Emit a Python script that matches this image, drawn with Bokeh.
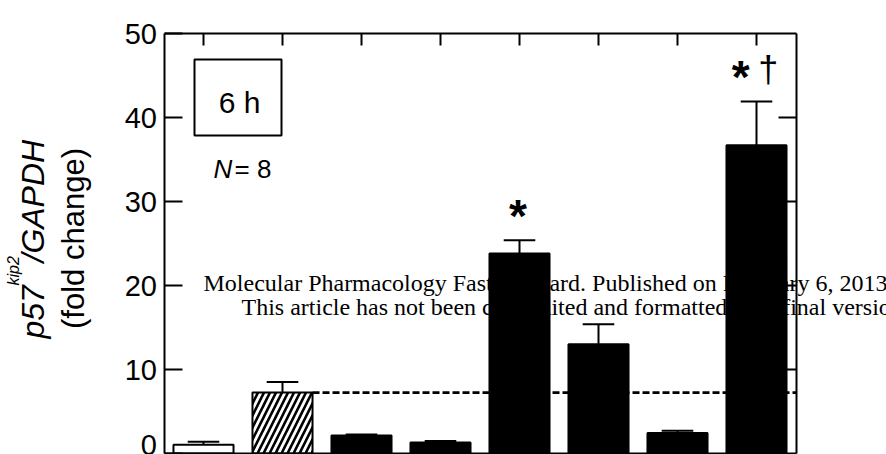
import math
from bokeh.plotting import figure
from bokeh.models import Label, LinearAxis, FixedTicker, Range1d
from bokeh.embed import file_html
from bokeh.resources import INLINE

# ---- data ----
groups = ["1", "2", "3", "4", "5", "6", "7", "8"]
values = [1.05, 7.25, 2.15, 1.3, 23.8, 13.0, 2.45, 36.7]
errors = [0.35, 1.25, 0.12, 0.18, 1.6, 2.4, 0.25, 5.2]
reference_level = 7.25
y_ticks = [0, 10, 20, 30, 40, 50]

SANS = "'Liberation Sans', Arial, sans-serif"
SERIF = "'Liberation Serif', 'Times New Roman', serif"

# frame covers the whole canvas; axes are drawn at fixed data locations
PX_X, X0 = 79.0, 203.0      # px per category, canvas x of first category
PX_Y, Y0 = 8.4, 453.0       # px per unit, canvas y of value 0
W, H = 886, 454

def dx(sx):
    return (sx - X0) / PX_X

def dy(sy):
    return (Y0 - sy) / PX_Y

xs = list(range(len(groups)))
XL, XR = -0.5, len(groups) - 0.5
YB, YT = y_ticks[0], y_ticks[-1]

p = figure(width=W, height=H, output_backend="svg", toolbar_location=None,
           x_range=Range1d(dx(0), dx(W)), y_range=Range1d(dy(H), dy(0)),
           x_axis_location=None, y_axis_location=None,
           min_border_left=0, min_border_right=0, min_border_top=0, min_border_bottom=0)
p.grid.visible = False
p.outline_line_color = None
p.background_fill_color = "white"
p.border_fill_color = "white"

# left axis
ya = LinearAxis(fixed_location=XL, bounds=(YB, YT), ticker=FixedTicker(ticks=y_ticks),
                major_tick_in=18, major_tick_out=0, minor_tick_in=0, minor_tick_out=0,
                major_tick_line_width=2, axis_line_width=2,
                major_label_text_font=SANS, major_label_text_font_size="29px",
                major_label_text_color="black", major_label_standoff=7)
p.add_layout(ya, "left")
# right axis (ticks only)
ra = LinearAxis(fixed_location=XR, bounds=(YB, YT), ticker=FixedTicker(ticks=y_ticks[1:-1]),
                major_tick_in=18, major_tick_out=0, minor_tick_in=0, minor_tick_out=0,
                major_label_overrides={t: "" for t in y_ticks[1:-1]},
                major_tick_line_width=2, axis_line_width=2, major_label_standoff=0)
p.add_layout(ra, "right")
# top axis (ticks only)
ta = LinearAxis(fixed_location=YT, bounds=(XL, XR), ticker=FixedTicker(ticks=xs),
                major_tick_in=12, major_tick_out=0, minor_tick_in=0, minor_tick_out=0,
                major_label_overrides={t: "" for t in xs},
                major_tick_line_width=2, axis_line_width=2, major_label_standoff=0)
p.add_layout(ta, "above")
# bottom axis line
ba = LinearAxis(fixed_location=YB, bounds=(XL, XR), ticker=FixedTicker(ticks=[]),
                major_tick_in=0, major_tick_out=0, minor_tick_in=0, minor_tick_out=0,
                axis_line_width=2)
p.add_layout(ba, "below")

# watermark (behind bars)
p.add_layout(Label(x=dx(203), y=dy(282.7),
                   text="Molecular Pharmacology Fast Forward. Published on February 6, 2013 as DOI: 10.1124/mol.112.083741",
                   text_font=SERIF, text_font_size="24px", text_color="black", text_baseline="alphabetic",
                   text_align="left", level="underlay"))
p.add_layout(Label(x=dx(241), y=dy(306.7),
                   text="This article has not been copyedited and formatted. The final version may differ from this version.",
                   text_font=SERIF, text_font_size="24px", text_color="black", text_baseline="alphabetic",
                   text_align="left", level="underlay"))

# dashed reference line
p.segment(x0=[1.38], x1=[XR], y0=[reference_level], y1=[reference_level],
          line_color="black", line_width=2.8, line_dash="7 3")

# bars
p.vbar(x=xs[:1], top=values[:1], width=0.76, fill_color="white", line_color="black", line_width=2)
p.vbar(x=xs[1:2], top=values[1:2], width=0.76, fill_color="white", line_color="black", line_width=2,
       hatch_pattern="/", hatch_color="black", hatch_weight=2.6, hatch_scale=12)
p.vbar(x=xs[2:], top=values[2:], width=0.76, fill_color="black", line_color="black", line_width=2)

# error bars (upper only)
tops = [v + e for v, e in zip(values, errors)]
p.segment(x0=xs, x1=xs, y0=values, y1=tops, line_color="black", line_width=2)
p.segment(x0=[x - 0.2 for x in xs], x1=[x + 0.2 for x in xs], y0=tops, y1=tops,
          line_color="black", line_width=2)

# significance marks
for x, y in [(3.98, 28.3), (6.80, 44.8)]:
    p.add_layout(Label(x=x, y=y, text="*", text_font=SANS, text_font_size="46px", text_color="black",
                       text_font_style="bold", text_align="center", text_baseline="middle"))
p.add_layout(Label(x=7.15, y=45.7, text="\u2020", text_font=SANS, text_font_size="36px", text_color="black",
                   text_align="center", text_baseline="middle"))

# inset box
p.quad(left=[dx(194)], right=[dx(281)], top=[dy(59)], bottom=[dy(135)], fill_color=None,
       line_color="black", line_width=2)
p.add_layout(Label(x=dx(239), y=dy(101.5), text="6 h", text_font=SANS, text_font_size="30px",
                   text_color="black", text_align="center", text_baseline="middle"))
p.add_layout(Label(x=dx(213), y=dy(168), text="N", text_font=SANS, text_font_size="26px",
                   text_color="black", text_font_style="italic", text_align="left", text_baseline="middle"))
p.add_layout(Label(x=dx(234), y=dy(168), text="= 8", text_font=SANS, text_font_size="26px",
                   text_color="black", text_align="left", text_baseline="middle"))

# y-axis title (rotated), anchored on the text's middle line
rot = math.pi / 2
p.add_layout(Label(x=dx(32), y=dy(338), text="p57", text_font=SANS, text_font_size="32px",
                   text_color="black", text_font_style="italic", angle=rot, text_align="left",
                   text_baseline="middle"))
p.add_layout(Label(x=dx(13), y=dy(285), text="kip2", text_font=SANS, text_font_size="16px",
                   text_color="black", text_font_style="italic", angle=rot, text_align="left",
                   text_baseline="middle"))
p.add_layout(Label(x=dx(32), y=dy(262), text="/GAPDH", text_font=SANS, text_font_size="32px",
                   text_color="black", text_font_style="italic", angle=rot, text_align="left",
                   text_baseline="middle"))
p.add_layout(Label(x=dx(73), y=dy(238), text="(fold change)", text_font=SANS, text_font_size="31px",
                   text_color="black", angle=rot, text_align="center", text_baseline="middle"))

open("out.html", "w").write(file_html(p, INLINE))
